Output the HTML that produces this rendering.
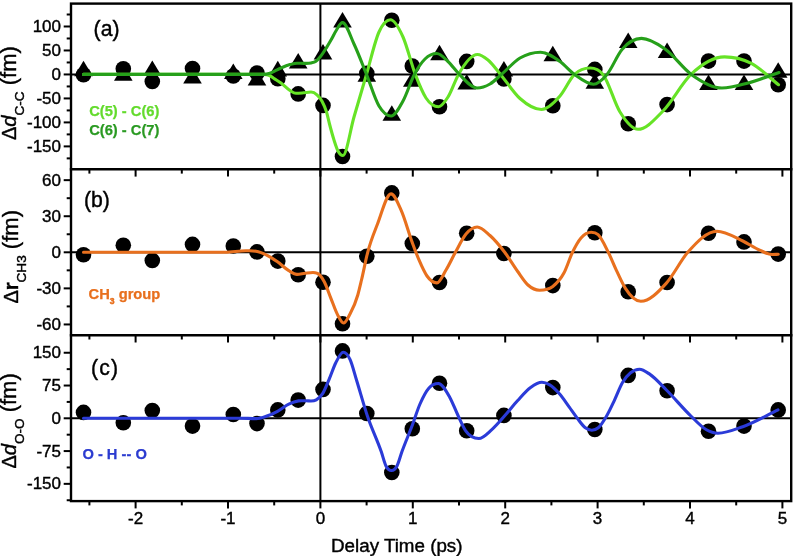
<!DOCTYPE html><html><head><meta charset="utf-8"><style>html,body{margin:0;padding:0;background:#fff;}svg{display:block;filter:blur(0.3px);}text{font-family:"Liberation Sans", sans-serif;}</style></head><body>
<svg width="793" height="556" viewBox="0 0 793 556">
<rect width="793" height="556" fill="#fff"/>
<g stroke="#000" stroke-width="2" fill="none">
<line x1="71.0" y1="74.4" x2="791.2" y2="74.4"/>
<line x1="71.0" y1="252.3" x2="791.2" y2="252.3"/>
<line x1="71.0" y1="418.2" x2="791.2" y2="418.2"/>
<line x1="320.4" y1="3.6" x2="320.4" y2="501.1"/>
</g>
<g fill="#000">
<circle cx="83.5" cy="74.8" r="7.8"/>
<path d="M83.5,60.7L92.8,76.3L74.2,76.3Z"/>
<circle cx="123.3" cy="68.8" r="7.8"/>
<path d="M123.3,65.2L132.6,80.8L114.0,80.8Z"/>
<circle cx="152.3" cy="81.4" r="7.8"/>
<path d="M152.3,60.4L161.6,76.0L143.0,76.0Z"/>
<circle cx="192.5" cy="68.6" r="7.8"/>
<path d="M192.5,68.0L201.8,83.6L183.2,83.6Z"/>
<circle cx="233.3" cy="76.0" r="7.8"/>
<path d="M233.3,63.5L242.6,79.1L224.0,79.1Z"/>
<circle cx="257.0" cy="73.0" r="7.8"/>
<path d="M257.0,69.9L266.3,85.5L247.7,85.5Z"/>
<circle cx="277.8" cy="78.8" r="7.8"/>
<path d="M277.8,60.8L287.1,76.4L268.5,76.4Z"/>
<circle cx="298.2" cy="93.9" r="7.8"/>
<path d="M298.2,53.0L307.5,68.6L288.9,68.6Z"/>
<circle cx="323.0" cy="105.4" r="7.8"/>
<path d="M323.0,44.0L332.3,59.6L313.7,59.6Z"/>
<circle cx="342.5" cy="156.5" r="7.8"/>
<path d="M342.5,12.0L351.8,27.6L333.2,27.6Z"/>
<circle cx="366.8" cy="73.4" r="7.8"/>
<path d="M366.8,66.2L376.1,81.8L357.5,81.8Z"/>
<circle cx="391.8" cy="20.2" r="7.8"/>
<path d="M391.8,105.2L401.1,120.8L382.5,120.8Z"/>
<circle cx="412.3" cy="66.0" r="7.8"/>
<path d="M412.3,71.2L421.6,86.8L403.0,86.8Z"/>
<circle cx="439.5" cy="106.7" r="7.8"/>
<path d="M439.5,44.7L448.8,60.3L430.2,60.3Z"/>
<circle cx="466.7" cy="61.4" r="7.8"/>
<path d="M466.7,73.9L476.0,89.5L457.4,89.5Z"/>
<circle cx="503.9" cy="79.0" r="7.8"/>
<path d="M503.9,60.9L513.2,76.5L494.6,76.5Z"/>
<circle cx="552.8" cy="105.7" r="7.8"/>
<path d="M552.8,45.7L562.1,61.3L543.5,61.3Z"/>
<circle cx="594.8" cy="69.4" r="7.8"/>
<path d="M594.8,73.2L604.1,88.8L585.5,88.8Z"/>
<circle cx="628.2" cy="123.7" r="7.8"/>
<path d="M628.2,32.5L637.5,48.1L618.9,48.1Z"/>
<circle cx="667.1" cy="104.6" r="7.8"/>
<path d="M667.1,42.4L676.4,58.0L657.8,58.0Z"/>
<circle cx="708.5" cy="61.1" r="7.8"/>
<path d="M708.5,74.5L717.8,90.1L699.2,90.1Z"/>
<circle cx="744.0" cy="61.1" r="7.8"/>
<path d="M744.0,74.5L753.3,90.1L734.7,90.1Z"/>
<circle cx="778.2" cy="84.8" r="7.8"/>
<path d="M778.2,62.2L787.5,77.8L768.9,77.8Z"/>
</g>
<path d="M83.50,74.40C105.67,74.40 127.83,74.40 150.00,74.40C180.00,74.40 210.00,74.40 240.00,74.40C248.00,74.40 256.00,74.40 264.00,74.40C265.67,74.40 267.33,74.62 269.00,75.30C270.67,75.98 272.33,77.43 274.00,78.50C276.33,80.00 278.67,81.31 281.00,83.00C284.00,85.18 287.00,88.66 290.00,90.50C292.00,91.73 294.00,93.30 296.00,93.30C298.50,93.30 301.00,93.02 303.50,92.80C306.00,92.58 308.50,92.00 311.00,92.00C313.00,92.00 315.00,92.98 317.00,94.80C318.67,96.32 320.33,98.10 322.00,101.20C323.50,103.99 325.00,106.84 326.50,111.90C327.50,115.27 328.50,120.16 329.50,124.00C331.00,129.76 332.50,135.31 334.00,140.00C335.33,144.17 336.67,148.43 338.00,151.00C339.63,154.15 341.27,155.50 342.90,155.50C346.60,155.50 350.30,129.73 354.00,117.00C358.17,102.67 362.33,88.57 366.50,74.40C370.67,60.23 374.83,41.07 379.00,32.00C382.83,23.65 386.67,19.80 390.50,19.80C394.67,19.80 398.83,27.77 403.00,37.00C407.10,46.08 411.20,63.76 415.30,74.40C418.87,83.65 422.43,92.60 426.00,98.00C430.17,104.30 434.33,106.80 438.50,106.80C441.67,106.80 444.83,101.95 448.00,97.00C451.50,91.53 455.00,80.56 458.50,74.40C464.80,63.31 471.10,54.50 477.40,54.50C480.93,54.50 484.47,57.14 488.00,60.00C492.17,63.37 496.33,69.46 500.50,74.40C507.00,82.10 513.50,92.71 520.00,98.50C527.17,104.89 534.33,109.50 541.50,109.50C547.67,109.50 553.83,103.13 560.00,96.00C564.83,90.41 569.67,79.09 574.50,74.40C579.73,69.32 584.97,68.00 590.20,68.00C594.47,68.00 598.73,69.13 603.00,74.40C608.67,81.40 614.33,102.91 620.00,112.00C626.00,121.63 632.00,129.30 638.00,129.30C646.33,129.30 654.67,119.36 663.00,111.00C672.33,101.64 681.67,83.27 691.00,74.40C702.17,63.79 713.33,56.90 724.50,56.90C733.30,56.90 742.10,58.78 750.90,63.20C760.10,67.83 769.30,77.53 778.50,84.70" fill="none" stroke="#66e326" stroke-width="3.1" stroke-linecap="round" stroke-linejoin="round"/>
<path d="M83.50,74.40C105.67,74.40 127.83,74.40 150.00,74.40C180.00,74.40 210.00,74.40 240.00,74.40C248.00,74.40 256.00,74.40 264.00,74.40C265.67,74.40 267.33,74.10 269.00,73.60C271.00,73.00 273.00,71.73 275.00,70.80C277.00,69.87 279.00,68.86 281.00,68.00C284.00,66.71 287.00,65.43 290.00,64.60C292.33,63.95 294.67,63.20 297.00,63.20C299.33,63.20 301.67,63.40 304.00,63.40C306.33,63.40 308.67,63.55 311.00,63.00C312.67,62.61 314.33,62.39 316.00,61.20C317.43,60.17 318.87,58.54 320.30,56.80C322.37,54.30 324.43,50.91 326.50,47.60C328.00,45.20 329.50,42.62 331.00,40.00C332.83,36.80 334.67,32.82 336.50,30.00C338.50,26.92 340.50,22.60 342.50,22.60C346.33,22.60 350.17,35.82 354.00,44.00C358.17,52.89 362.33,64.07 366.50,74.40C370.67,84.73 374.83,99.07 379.00,106.00C383.03,112.71 387.07,116.00 391.10,116.00C395.07,116.00 399.03,108.17 403.00,101.00C406.80,94.13 410.60,81.53 414.40,74.40C417.93,67.77 421.47,62.48 425.00,59.00C428.93,55.12 432.87,53.50 436.80,53.50C440.53,53.50 444.27,58.06 448.00,61.50C451.80,65.00 455.60,70.64 459.40,74.40C465.27,80.21 471.13,88.00 477.00,88.00C481.33,88.00 485.67,86.55 490.00,84.00C493.83,81.75 497.67,77.68 501.50,74.40C507.67,69.13 513.83,61.70 520.00,58.00C526.83,53.90 533.67,52.20 540.50,52.20C547.00,52.20 553.50,56.86 560.00,61.50C564.83,64.95 569.67,70.88 574.50,74.40C580.83,79.01 587.17,84.20 593.50,84.20C598.00,84.20 602.50,79.66 607.00,74.40C612.00,68.56 617.00,55.43 622.00,49.50C628.50,41.79 635.00,38.40 641.50,38.40C649.33,38.40 657.17,43.56 665.00,49.00C673.77,55.08 682.53,68.05 691.30,74.40C701.53,81.81 711.77,88.00 722.00,88.00C730.67,88.00 739.33,85.25 748.00,83.00C758.33,80.32 768.67,76.00 779.00,72.50" fill="none" stroke="#26a01a" stroke-width="3.1" stroke-linecap="round" stroke-linejoin="round"/>
<g fill="#000">
<circle cx="83.5" cy="254.8" r="7.8"/>
<circle cx="123.3" cy="245.3" r="7.8"/>
<circle cx="152.3" cy="260.4" r="7.8"/>
<circle cx="192.5" cy="244.4" r="7.8"/>
<circle cx="233.3" cy="246.0" r="7.8"/>
<circle cx="257.0" cy="251.9" r="7.8"/>
<circle cx="277.8" cy="261.1" r="7.8"/>
<circle cx="298.2" cy="274.8" r="7.8"/>
<circle cx="323.0" cy="282.2" r="7.8"/>
<circle cx="342.5" cy="323.7" r="7.8"/>
<circle cx="366.8" cy="256.2" r="7.8"/>
<circle cx="391.8" cy="192.9" r="7.8"/>
<circle cx="412.3" cy="243.4" r="7.8"/>
<circle cx="439.5" cy="282.5" r="7.8"/>
<circle cx="466.7" cy="233.3" r="7.8"/>
<circle cx="503.9" cy="253.5" r="7.8"/>
<circle cx="552.8" cy="285.6" r="7.8"/>
<circle cx="594.8" cy="232.7" r="7.8"/>
<circle cx="628.2" cy="291.7" r="7.8"/>
<circle cx="667.1" cy="282.5" r="7.8"/>
<circle cx="708.5" cy="233.3" r="7.8"/>
<circle cx="744.0" cy="241.9" r="7.8"/>
<circle cx="778.2" cy="254.1" r="7.8"/>
</g>
<path d="M83.50,252.30C105.67,252.30 127.83,252.30 150.00,252.30C175.00,252.30 200.00,252.30 225.00,252.30C232.00,252.30 239.00,250.80 246.00,250.80C249.33,250.80 252.67,250.53 256.00,251.20C257.67,251.53 259.33,252.02 261.00,252.60C262.73,253.21 264.47,253.96 266.20,254.80C269.97,256.63 273.73,259.15 277.50,261.80C281.27,264.45 285.03,268.47 288.80,270.70C291.53,272.32 294.27,274.40 297.00,274.40C299.67,274.40 302.33,273.62 305.00,273.30C307.67,272.98 310.33,272.50 313.00,272.50C315.20,272.50 317.40,272.57 319.60,274.80C321.20,276.42 322.80,278.92 324.40,282.00C326.57,286.18 328.73,292.90 330.90,298.30C333.07,303.70 335.23,310.23 337.40,314.40C339.43,318.32 341.47,323.00 343.50,323.00C345.67,323.00 347.83,318.04 350.00,314.00C352.60,309.16 355.20,304.19 357.80,295.00C359.03,290.64 360.27,285.19 361.50,280.00C363.57,271.30 365.63,260.27 367.70,252.30C370.97,239.71 374.23,232.53 377.50,224.00C382.00,212.25 386.50,193.90 391.00,193.90C394.43,193.90 397.87,202.97 401.30,210.70C404.93,218.88 408.57,232.56 412.20,242.40C414.50,248.63 416.80,254.89 419.10,260.20C421.73,266.28 424.37,272.26 427.00,276.00C430.30,280.69 433.60,282.90 436.90,282.90C439.93,282.90 442.97,274.99 446.00,270.00C449.13,264.84 452.27,257.97 455.40,252.30C458.93,245.91 462.47,238.21 466.00,234.00C469.73,229.55 473.47,227.00 477.20,227.00C481.47,227.00 485.73,231.72 490.00,235.50C494.90,239.85 499.80,245.83 504.70,252.30C509.03,258.02 513.37,265.50 517.70,271.50C521.13,276.25 524.57,281.89 528.00,285.00C531.83,288.47 535.67,290.20 539.50,290.20C543.93,290.20 548.37,289.98 552.80,286.50C556.50,283.60 560.20,280.09 563.90,273.10C566.77,267.68 569.63,258.17 572.50,252.30C575.33,246.50 578.17,241.32 581.00,238.00C584.40,234.02 587.80,232.30 591.20,232.30C593.50,232.30 595.80,232.53 598.10,234.60C601.50,237.66 604.90,245.50 608.30,252.30C611.17,258.03 614.03,265.35 616.90,271.40C619.73,277.38 622.57,283.90 625.40,288.40C630.53,296.54 635.67,301.30 640.80,301.30C649.33,301.30 657.87,292.55 666.40,283.10C673.53,275.20 680.67,260.41 687.80,252.30C697.50,241.27 707.20,231.20 716.90,231.20C725.53,231.20 734.17,236.90 742.80,241.00C748.43,243.68 754.07,247.66 759.70,250.10C763.80,251.88 767.90,254.50 772.00,254.50C774.10,254.50 776.20,254.37 778.30,254.30" fill="none" stroke="#e8701e" stroke-width="3.1" stroke-linecap="round" stroke-linejoin="round"/>
<g fill="#000">
<circle cx="83.5" cy="412.4" r="7.8"/>
<circle cx="123.3" cy="422.8" r="7.8"/>
<circle cx="152.3" cy="410.5" r="7.8"/>
<circle cx="192.5" cy="426.1" r="7.8"/>
<circle cx="233.3" cy="414.5" r="7.8"/>
<circle cx="257.0" cy="423.6" r="7.8"/>
<circle cx="277.8" cy="409.9" r="7.8"/>
<circle cx="298.2" cy="400.1" r="7.8"/>
<circle cx="323.0" cy="389.4" r="7.8"/>
<circle cx="342.5" cy="350.9" r="7.8"/>
<circle cx="366.8" cy="413.5" r="7.8"/>
<circle cx="391.8" cy="472.5" r="7.8"/>
<circle cx="412.3" cy="428.8" r="7.8"/>
<circle cx="439.5" cy="383.3" r="7.8"/>
<circle cx="466.7" cy="430.7" r="7.8"/>
<circle cx="503.9" cy="415.4" r="7.8"/>
<circle cx="552.8" cy="387.6" r="7.8"/>
<circle cx="594.8" cy="429.5" r="7.8"/>
<circle cx="628.2" cy="375.4" r="7.8"/>
<circle cx="667.1" cy="390.7" r="7.8"/>
<circle cx="708.5" cy="431.3" r="7.8"/>
<circle cx="744.0" cy="426.1" r="7.8"/>
<circle cx="778.2" cy="409.9" r="7.8"/>
</g>
<path d="M83.50,418.20C105.67,418.20 127.83,418.20 150.00,418.20C180.00,418.20 210.00,418.20 240.00,418.20C245.33,418.20 250.67,418.60 256.00,418.60C259.40,418.60 262.80,417.42 266.20,416.30C269.97,415.06 273.73,413.32 277.50,411.30C281.27,409.28 285.03,405.98 288.80,404.20C292.03,402.67 295.27,401.40 298.50,400.90C301.00,400.51 303.50,400.80 306.00,400.80C307.67,400.80 309.33,401.00 311.00,401.00C312.77,401.00 314.53,400.80 316.30,399.80C318.47,398.57 320.63,396.90 322.80,393.40C324.97,389.90 327.13,383.92 329.30,378.80C331.47,373.68 333.63,366.97 335.80,362.70C338.30,357.77 340.80,352.30 343.30,352.30C345.53,352.30 347.77,354.64 350.00,359.40C352.17,364.02 354.33,373.03 356.50,380.00C360.13,391.70 363.77,405.16 367.40,416.00C372.03,429.82 376.67,438.32 381.30,451.80C382.87,456.36 384.43,462.86 386.00,466.00C387.83,469.68 389.67,470.50 391.50,470.50C393.33,470.50 395.17,469.52 397.00,466.00C398.63,462.87 400.27,456.35 401.90,451.80C405.27,442.42 408.63,434.97 412.00,426.00C414.67,418.90 417.33,410.11 420.00,404.00C423.00,397.12 426.00,391.42 429.00,388.00C432.10,384.46 435.20,383.50 438.30,383.50C442.10,383.50 445.90,390.42 449.70,397.20C452.40,402.02 455.10,409.33 457.80,415.00C460.50,420.67 463.20,427.29 465.90,431.20C470.20,437.42 474.50,438.50 478.80,438.50C483.13,438.50 487.47,433.40 491.80,429.60C496.10,425.82 500.40,420.63 504.70,415.80C509.03,410.93 513.37,405.23 517.70,400.50C522.00,395.80 526.30,390.58 530.60,387.50C534.37,384.80 538.13,382.30 541.90,382.30C544.50,382.30 547.10,383.36 549.70,384.90C552.93,386.82 556.17,390.15 559.40,393.80C562.63,397.45 565.87,402.37 569.10,406.80C571.80,410.50 574.50,414.60 577.20,418.10C579.90,421.60 582.60,425.81 585.30,427.80C587.47,429.40 589.63,430.20 591.80,430.20C593.97,430.20 596.13,429.61 598.30,427.80C600.97,425.57 603.63,421.05 606.30,416.50C609.00,411.90 611.70,405.97 614.40,400.30C617.10,394.63 619.80,387.08 622.50,382.50C625.20,377.92 627.90,375.01 630.60,372.80C633.57,370.37 636.53,369.20 639.50,369.20C643.00,369.20 646.50,372.04 650.00,374.40C655.47,378.08 660.93,384.56 666.40,390.00C674.57,398.13 682.73,408.18 690.90,416.00C695.93,420.82 700.97,426.64 706.00,429.50C710.00,431.77 714.00,433.20 718.00,433.20C726.27,433.20 734.53,429.60 742.80,426.70C754.53,422.58 766.27,415.50 778.00,409.90" fill="none" stroke="#2b3bd8" stroke-width="3.1" stroke-linecap="round" stroke-linejoin="round"/>
<g stroke="#000" stroke-width="2.4" fill="none" stroke-linecap="square">
<rect x="71.0" y="3.6" width="720.2" height="497.5"/>
<line x1="71.0" y1="169.3" x2="791.2" y2="169.3"/>
<line x1="71.0" y1="335.2" x2="791.2" y2="335.2"/>
</g>
<g stroke="#000" stroke-width="2" fill="none"><line x1="63.7" y1="26.49" x2="71.0" y2="26.49"/><line x1="63.7" y1="50.47" x2="71.0" y2="50.47"/><line x1="63.7" y1="74.45" x2="71.0" y2="74.45"/><line x1="63.7" y1="98.43" x2="71.0" y2="98.43"/><line x1="63.7" y1="122.41" x2="71.0" y2="122.41"/><line x1="63.7" y1="146.39" x2="71.0" y2="146.39"/><line x1="66.7" y1="14.50" x2="71.0" y2="14.50"/><line x1="66.7" y1="38.48" x2="71.0" y2="38.48"/><line x1="66.7" y1="62.46" x2="71.0" y2="62.46"/><line x1="66.7" y1="86.44" x2="71.0" y2="86.44"/><line x1="66.7" y1="110.42" x2="71.0" y2="110.42"/><line x1="66.7" y1="134.40" x2="71.0" y2="134.40"/><line x1="66.7" y1="158.38" x2="71.0" y2="158.38"/><line x1="63.7" y1="180.15" x2="71.0" y2="180.15"/><line x1="63.7" y1="216.23" x2="71.0" y2="216.23"/><line x1="63.7" y1="252.30" x2="71.0" y2="252.30"/><line x1="63.7" y1="288.38" x2="71.0" y2="288.38"/><line x1="63.7" y1="324.45" x2="71.0" y2="324.45"/><line x1="66.7" y1="198.19" x2="71.0" y2="198.19"/><line x1="66.7" y1="234.26" x2="71.0" y2="234.26"/><line x1="66.7" y1="270.34" x2="71.0" y2="270.34"/><line x1="66.7" y1="306.41" x2="71.0" y2="306.41"/><line x1="63.7" y1="352.75" x2="71.0" y2="352.75"/><line x1="63.7" y1="385.53" x2="71.0" y2="385.53"/><line x1="63.7" y1="418.30" x2="71.0" y2="418.30"/><line x1="63.7" y1="451.07" x2="71.0" y2="451.07"/><line x1="63.7" y1="483.85" x2="71.0" y2="483.85"/><line x1="66.7" y1="369.14" x2="71.0" y2="369.14"/><line x1="66.7" y1="401.91" x2="71.0" y2="401.91"/><line x1="66.7" y1="434.69" x2="71.0" y2="434.69"/><line x1="66.7" y1="467.46" x2="71.0" y2="467.46"/><line x1="66.7" y1="500.24" x2="71.0" y2="500.24"/><line x1="135.60" y1="169.3" x2="135.60" y2="176.6"/><line x1="228.00" y1="169.3" x2="228.00" y2="176.6"/><line x1="320.40" y1="169.3" x2="320.40" y2="176.6"/><line x1="412.80" y1="169.3" x2="412.80" y2="176.6"/><line x1="505.20" y1="169.3" x2="505.20" y2="176.6"/><line x1="597.60" y1="169.3" x2="597.60" y2="176.6"/><line x1="690.00" y1="169.3" x2="690.00" y2="176.6"/><line x1="782.40" y1="169.3" x2="782.40" y2="176.6"/><line x1="89.40" y1="169.3" x2="89.40" y2="173.6"/><line x1="181.80" y1="169.3" x2="181.80" y2="173.6"/><line x1="274.20" y1="169.3" x2="274.20" y2="173.6"/><line x1="366.60" y1="169.3" x2="366.60" y2="173.6"/><line x1="459.00" y1="169.3" x2="459.00" y2="173.6"/><line x1="551.40" y1="169.3" x2="551.40" y2="173.6"/><line x1="643.80" y1="169.3" x2="643.80" y2="173.6"/><line x1="736.20" y1="169.3" x2="736.20" y2="173.6"/><line x1="135.60" y1="335.2" x2="135.60" y2="342.5"/><line x1="228.00" y1="335.2" x2="228.00" y2="342.5"/><line x1="320.40" y1="335.2" x2="320.40" y2="342.5"/><line x1="412.80" y1="335.2" x2="412.80" y2="342.5"/><line x1="505.20" y1="335.2" x2="505.20" y2="342.5"/><line x1="597.60" y1="335.2" x2="597.60" y2="342.5"/><line x1="690.00" y1="335.2" x2="690.00" y2="342.5"/><line x1="782.40" y1="335.2" x2="782.40" y2="342.5"/><line x1="89.40" y1="335.2" x2="89.40" y2="339.5"/><line x1="181.80" y1="335.2" x2="181.80" y2="339.5"/><line x1="274.20" y1="335.2" x2="274.20" y2="339.5"/><line x1="366.60" y1="335.2" x2="366.60" y2="339.5"/><line x1="459.00" y1="335.2" x2="459.00" y2="339.5"/><line x1="551.40" y1="335.2" x2="551.40" y2="339.5"/><line x1="643.80" y1="335.2" x2="643.80" y2="339.5"/><line x1="736.20" y1="335.2" x2="736.20" y2="339.5"/><line x1="135.60" y1="501.1" x2="135.60" y2="508.4"/><line x1="228.00" y1="501.1" x2="228.00" y2="508.4"/><line x1="320.40" y1="501.1" x2="320.40" y2="508.4"/><line x1="412.80" y1="501.1" x2="412.80" y2="508.4"/><line x1="505.20" y1="501.1" x2="505.20" y2="508.4"/><line x1="597.60" y1="501.1" x2="597.60" y2="508.4"/><line x1="690.00" y1="501.1" x2="690.00" y2="508.4"/><line x1="782.40" y1="501.1" x2="782.40" y2="508.4"/><line x1="89.40" y1="501.1" x2="89.40" y2="505.4"/><line x1="181.80" y1="501.1" x2="181.80" y2="505.4"/><line x1="274.20" y1="501.1" x2="274.20" y2="505.4"/><line x1="366.60" y1="501.1" x2="366.60" y2="505.4"/><line x1="459.00" y1="501.1" x2="459.00" y2="505.4"/><line x1="551.40" y1="501.1" x2="551.40" y2="505.4"/><line x1="643.80" y1="501.1" x2="643.80" y2="505.4"/><line x1="736.20" y1="501.1" x2="736.20" y2="505.4"/></g>
<g fill="#000" stroke="#000" stroke-width="0.40"><text transform="translate(61.0,32.09) scale(1.000,1)" text-anchor="end" font-size="17.0">100</text><text transform="translate(61.0,56.07) scale(1.000,1)" text-anchor="end" font-size="17.0">50</text><text transform="translate(61.0,80.05) scale(1.000,1)" text-anchor="end" font-size="17.0">0</text><text transform="translate(61.0,104.03) scale(1.000,1)" text-anchor="end" font-size="17.0">-50</text><text transform="translate(61.0,128.01) scale(1.000,1)" text-anchor="end" font-size="17.0">-100</text><text transform="translate(61.0,151.99) scale(1.000,1)" text-anchor="end" font-size="17.0">-150</text><text transform="translate(61.0,185.75) scale(1.000,1)" text-anchor="end" font-size="17.0">60</text><text transform="translate(61.0,221.83) scale(1.000,1)" text-anchor="end" font-size="17.0">30</text><text transform="translate(61.0,257.90) scale(1.000,1)" text-anchor="end" font-size="17.0">0</text><text transform="translate(61.0,293.98) scale(1.000,1)" text-anchor="end" font-size="17.0">-30</text><text transform="translate(61.0,330.05) scale(1.000,1)" text-anchor="end" font-size="17.0">-60</text><text transform="translate(61.0,358.35) scale(1.000,1)" text-anchor="end" font-size="17.0">150</text><text transform="translate(61.0,391.13) scale(1.000,1)" text-anchor="end" font-size="17.0">75</text><text transform="translate(61.0,423.90) scale(1.000,1)" text-anchor="end" font-size="17.0">0</text><text transform="translate(61.0,456.68) scale(1.000,1)" text-anchor="end" font-size="17.0">-75</text><text transform="translate(61.0,489.45) scale(1.000,1)" text-anchor="end" font-size="17.0">-150</text><text transform="translate(135.60,523.80) scale(1.000,1)" text-anchor="middle" font-size="17.0">-2</text><text transform="translate(228.00,523.80) scale(1.000,1)" text-anchor="middle" font-size="17.0">-1</text><text transform="translate(320.40,523.80) scale(1.000,1)" text-anchor="middle" font-size="17.0">0</text><text transform="translate(412.80,523.80) scale(1.000,1)" text-anchor="middle" font-size="17.0">1</text><text transform="translate(505.20,523.80) scale(1.000,1)" text-anchor="middle" font-size="17.0">2</text><text transform="translate(597.60,523.80) scale(1.000,1)" text-anchor="middle" font-size="17.0">3</text><text transform="translate(690.00,523.80) scale(1.000,1)" text-anchor="middle" font-size="17.0">4</text><text transform="translate(782.40,523.80) scale(1.000,1)" text-anchor="middle" font-size="17.0">5</text></g>
<text transform="translate(331.0,551.6) scale(1.000,1)" font-size="18.8" fill="#000" stroke="#000" stroke-width="0.40">Delay Time (ps)</text>
<g stroke="#000" stroke-width="0.40">
<text x="93.6" y="35.5" font-size="21.2" fill="#000">(a)</text>
<text x="84.0" y="207.0" font-size="21.2" fill="#000">(b)</text>
<text x="91.0" y="374.6" font-size="21.2" letter-spacing="1.2" fill="#000">(c)</text>
</g>
<text x="89.2" y="116.0" font-size="14.7" font-weight="bold" fill="#63db2c" stroke="#63db2c" stroke-width="0.25">C(5) - C(6)</text>
<text x="89.2" y="134.7" font-size="14.7" font-weight="bold" fill="#2a9a22" stroke="#2a9a22" stroke-width="0.25">C(6) - C(7)</text>
<text x="88.6" y="298.7" font-size="14.7" font-weight="bold" fill="#e8701e" stroke="#e8701e" stroke-width="0.25">CH<tspan font-size="8.6" dy="5.3" stroke-width="0.5">3</tspan><tspan dy="-5.3"> group</tspan></text>
<text x="82.4" y="459.4" font-size="14.7" font-weight="bold" fill="#2b3bd0" stroke="#2b3bd0" stroke-width="0.25">O - H -- O</text>
<text transform="translate(16.4,140.0) rotate(-90)" font-size="20.0" fill="#000" stroke="#000" stroke-width="0.40">Δ<tspan font-style="italic">d</tspan><tspan font-size="13.6" dy="8.0">C-C</tspan><tspan font-size="22" dy="-8.0"> (fm)</tspan></text>
<text transform="translate(17.6,303.6) rotate(-90)" font-size="20.0" fill="#000" stroke="#000" stroke-width="0.40">Δ<tspan font-weight="bold">r</tspan><tspan font-size="13.6" dy="8.0">CH3</tspan><tspan font-size="22" dy="-8.0"> (fm)</tspan></text>
<text transform="translate(16.4,468.6) rotate(-90)" font-size="20.0" fill="#000" stroke="#000" stroke-width="0.40">Δ<tspan font-style="italic">d</tspan><tspan font-size="13.6" dy="8.0">O-O</tspan><tspan font-size="22" dy="-8.0"> (fm)</tspan></text>
</svg></body></html>
